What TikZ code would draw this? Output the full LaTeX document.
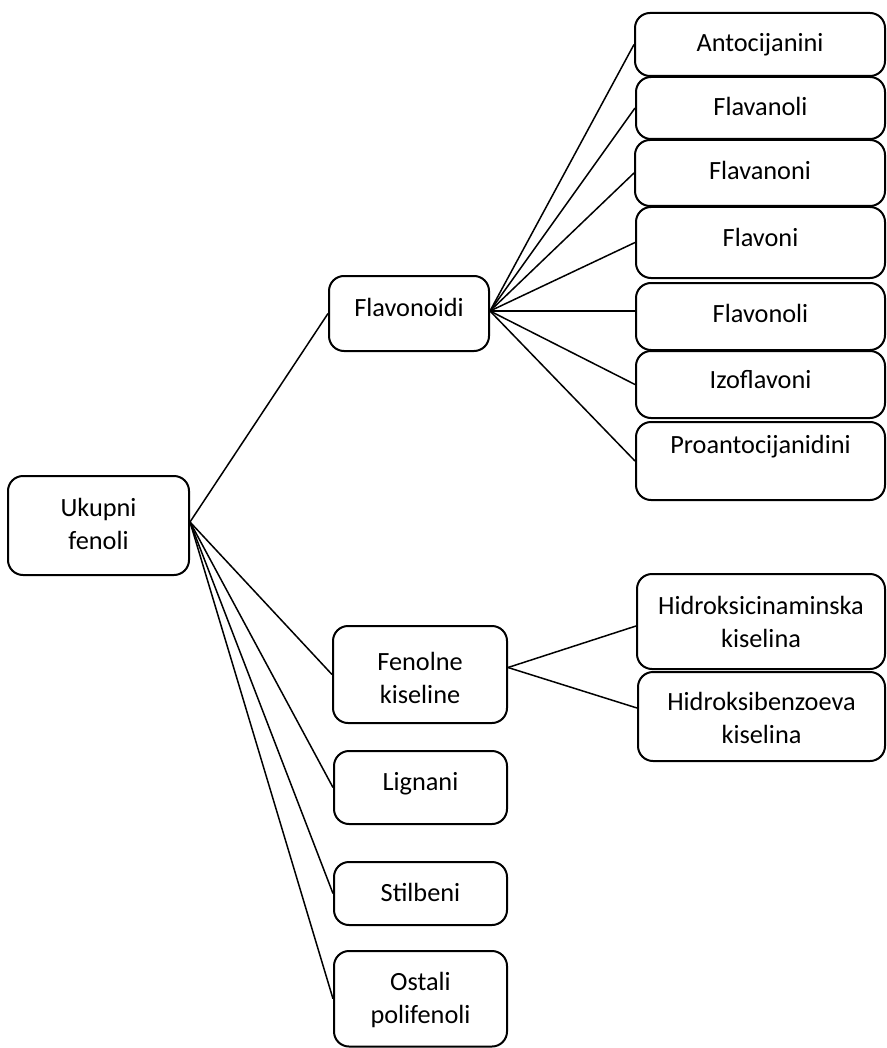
\documentclass[tikz,border=0pt]{standalone}
\usepackage{fontspec}
\setmainfont{Carlito}
\begin{document}
\begin{tikzpicture}[x=0.5pt,y=-0.5pt,
  box/.style={draw=black, line width=1pt, rounded corners=7.5pt, inner sep=0pt, fill=white},
  lbl/.style={anchor=base, align=center, inner sep=0pt, font=\fontsize{13.15}{16.5}\selectfont},
  link/.style={draw=black, line width=0.75pt}]
\useasboundingbox (0,0) rectangle (887,1048);
% boxes
\node[box, minimum width=90.5pt, minimum height=49.5pt] (U) at (98.5,525.5) {};
\node[box, minimum width=80pt, minimum height=37.5pt] (Fd) at (409,313.5) {};
\node[box, minimum width=125pt, minimum height=31.5pt] (A) at (760,44.5) {};
\node[box, minimum width=124.5pt, minimum height=31pt] (Fl) at (760.5,108) {};
\node[box, minimum width=125pt, minimum height=33pt] (Fn) at (760,173) {};
\node[box, minimum width=124.5pt, minimum height=35.5pt] (Fv) at (760.5,242.5) {};
\node[box, minimum width=124.5pt, minimum height=33.5pt] (Fo) at (760.5,316.5) {};
\node[box, minimum width=124.5pt, minimum height=33.5pt] (Iz) at (760.5,384.5) {};
\node[box, minimum width=124.5pt, minimum height=39pt] (Pr) at (760.5,461) {};
\node[box, minimum width=87pt, minimum height=48.5pt] (Fk) at (420,674.5) {};
\node[box, minimum width=124pt, minimum height=47.5pt] (Hc) at (761,621.5) {};
\node[box, minimum width=123.5pt, minimum height=44.5pt] (Hb) at (761.5,716.5) {};
\node[box, minimum width=86.5pt, minimum height=36.5pt] (Lg) at (420.5,787.5) {};
\node[box, minimum width=86.5pt, minimum height=31.5pt] (St) at (420.5,893.5) {};
\node[box, minimum width=86.5pt, minimum height=47.75pt] (Os) at (420.5,998.75) {};
% labels (base = baseline of the last line)
\node[lbl] (tU) at (98.5,549) {Ukupni\\fenoli};
\node[lbl] (tFd) at (409,316) {Flavonoidi};
\node[lbl] (tA) at (760,52) {Antocijanini};
\node[lbl] (tFl) at (760.5,116) {Flavanoli};
\node[lbl] (tFn) at (760,180) {Flavanoni};
\node[lbl] (tFv) at (760.5,247) {Flavoni};
\node[lbl] (tFo) at (760.5,322) {Flavonoli};
\node[lbl] (tIz) at (760.5,388) {Izoflavoni};
\node[lbl] (tPr) at (760.5,453) {Proantocijanidini};
\node[lbl] (tFk) at (420,703) {Fenolne\\kiseline};
\node[lbl] (tHc) at (761,647) {Hidroksicinaminska\\kiselina};
\node[lbl] (tHb) at (761.5,743) {Hidroksibenzoeva\\kiselina};
\node[lbl] (tLg) at (420.5,790) {Lignani};
\node[lbl] (tSt) at (420.5,901) {Stilbeni};
\node[lbl] (tOs) at (420.5,1023) {Ostali\\polifenoli};
% connectors
\foreach \t in {Fd,Fk,Lg,St,Os}
  \draw[link] ([yshift=1.75pt]U.east) -- (\t.west);
\foreach \t in {A,Fl,Fn,Fv,Iz,Pr}
  \draw[link] ([yshift=1.25pt]Fd.east) -- (\t.west);
\draw[link] ([yshift=1.25pt]Fd.east) -- ([yshift=2.75pt]Fo.west);
\draw[link] ([yshift=3.5pt]Fk.east) -- ([yshift=-2.25pt]Hc.west);
\draw[link] ([yshift=3.5pt]Fk.east) -- ([yshift=4.25pt]Hb.west);
\end{tikzpicture}
\end{document}
